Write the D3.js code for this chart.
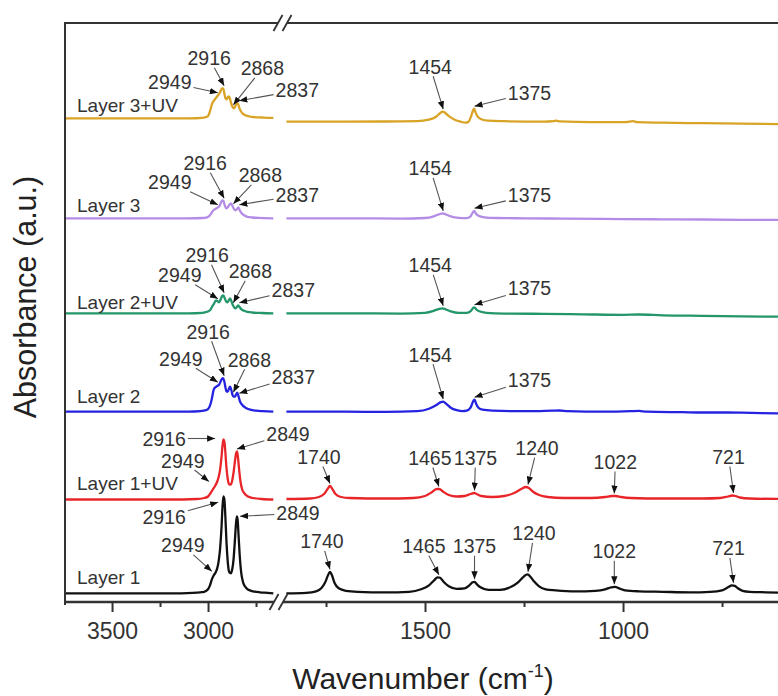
<!DOCTYPE html>
<html><head><meta charset="utf-8">
<script src="https://cdn.jsdelivr.net/npm/d3@7"></script>
<style>
body{margin:0;background:#fff}
svg{display:block}
text{font-family:"Liberation Sans",Arial,Helvetica,sans-serif}
</style>
</head><body>
<svg id="chart" width="778" height="696"></svg>
<script>
// ---------------- DATA ----------------
const seriesNames  = ["Layer 1", "Layer 1+UV", "Layer 2", "Layer 2+UV", "Layer 3", "Layer 3+UV"];
const seriesColors = ["#111111", "#e8262a", "#2323e0", "#23966a", "#b48ce6", "#d9a426"];
// vertical offsets (a.u.) of each spectrum, high-wavenumber / low-wavenumber segment
const baselineLeft  = [0.087, 1.025, 1.903, 2.887, 3.837, 4.837];
const baselineRight = [0.087, 1.030, 1.903, 2.887, 3.837, 4.803];

const ticksLeftMajor  = [3500, 3000];
const ticksLeftMinor  = [3250, 2750];
const ticksRightMajor = [1500, 1000];
const ticksRightMinor = [1750, 1250, 750];

// spectra: [wavenumber, absorbance above offset]
const layer1Left = [[3745,0],[3200,0],[3080,0.005],[3040,0.01],[3020,0.015],[3000,0.04],[2990,0.08],[2980,0.14],[2970,0.18],[2960,0.21],[2952,0.25],[2944,0.33],[2937,0.45],[2930,0.65],[2925,0.85],[2920,0.97],[2915,0.94],[2910,0.78],[2904,0.52],[2897,0.31],[2889,0.21],[2881,0.2],[2874,0.24],[2867,0.34],[2861,0.5],[2855,0.68],[2850,0.77],[2846,0.74],[2841,0.58],[2835,0.38],[2828,0.22],[2819,0.12],[2808,0.07],[2790,0.035],[2765,0.02],[2730,0.01],[2690,0.005],[2660,0]];
const layer1Right = [[1850,0],[1800,0.005],[1775,0.02],[1762,0.05],[1752,0.11],[1745,0.18],[1740,0.215],[1735,0.18],[1728,0.1],[1718,0.05],[1700,0.025],[1670,0.015],[1600,0.01],[1540,0.015],[1510,0.04],[1490,0.08],[1477,0.13],[1468,0.16],[1462,0.155],[1452,0.11],[1440,0.07],[1420,0.045],[1400,0.05],[1388,0.08],[1380,0.11],[1375,0.115],[1369,0.09],[1360,0.06],[1340,0.035],[1310,0.035],[1285,0.06],[1265,0.11],[1250,0.17],[1242,0.19],[1236,0.175],[1225,0.12],[1212,0.07],[1195,0.04],[1170,0.03],[1120,0.02],[1070,0.025],[1045,0.04],[1030,0.06],[1020,0.065],[1010,0.05],[995,0.03],[960,0.02],[900,0.015],[830,0.01],[780,0.015],[750,0.03],[735,0.06],[725,0.08],[718,0.075],[710,0.05],[698,0.025],[680,0.015],[640,0.01],[590,0.005]];

const layer1UVLeft = [[3745,0],[3200,0],[3060,0.005],[3020,0.015],[3000,0.03],[2988,0.06],[2975,0.1],[2962,0.14],[2952,0.18],[2944,0.23],[2937,0.3],[2930,0.42],[2925,0.53],[2920,0.6],[2915,0.58],[2910,0.48],[2904,0.32],[2897,0.2],[2889,0.15],[2881,0.15],[2874,0.19],[2867,0.27],[2860,0.38],[2854,0.46],[2849,0.48],[2844,0.42],[2838,0.3],[2831,0.18],[2822,0.1],[2810,0.06],[2792,0.03],[2765,0.015],[2720,0.005],[2660,0]];
const layer1UVRight = [[1850,0],[1790,0.005],[1768,0.02],[1755,0.05],[1746,0.1],[1740,0.13],[1734,0.1],[1726,0.05],[1712,0.02],[1690,0.01],[1600,0.005],[1530,0.01],[1500,0.03],[1482,0.07],[1470,0.1],[1464,0.1],[1455,0.075],[1440,0.04],[1420,0.025],[1400,0.03],[1385,0.05],[1376,0.06],[1370,0.05],[1358,0.03],[1330,0.02],[1300,0.03],[1275,0.06],[1257,0.1],[1245,0.12],[1238,0.11],[1228,0.075],[1212,0.04],[1190,0.02],[1150,0.01],[1080,0.01],[1045,0.02],[1028,0.03],[1018,0.03],[1005,0.02],[980,0.01],[900,0.005],[800,0.005],[755,0.01],[735,0.025],[724,0.035],[716,0.03],[705,0.015],[680,0.005],[590,0]];

const layer2Left = [[3745,0],[3100,0],[3040,0.005],[3010,0.015],[2995,0.04],[2985,0.09],[2978,0.15],[2972,0.21],[2965,0.24],[2957,0.25],[2950,0.26],[2942,0.27],[2935,0.3],[2927,0.33],[2922,0.335],[2916,0.31],[2910,0.25],[2903,0.2],[2897,0.2],[2891,0.23],[2885,0.25],[2879,0.22],[2873,0.17],[2867,0.15],[2861,0.15],[2854,0.17],[2848,0.19],[2842,0.16],[2835,0.11],[2827,0.08],[2816,0.055],[2800,0.035],[2780,0.02],[2750,0.01],[2712,0.005],[2660,0]];
const layer2Right = [[1850,0],[1700,0],[1600,-0.002],[1520,0.005],[1490,0.03],[1470,0.07],[1460,0.095],[1454,0.1],[1447,0.08],[1435,0.04],[1420,0.015],[1405,0.005],[1395,0.01],[1385,0.04],[1379,0.1],[1375,0.12],[1371,0.08],[1365,0.04],[1355,0.02],[1330,0.01],[1280,0.005],[1240,0.005],[1180,0.01],[1160,0.012],[1140,0.005],[1050,0],[980,0.005],[960,0.008],[940,0],[850,-0.005],[800,-0.008],[740,-0.008],[700,-0.01],[650,-0.015],[590,-0.017]];

const layer2UVLeft = [[3745,0],[3100,0],[3030,0.005],[3005,0.015],[2990,0.03],[2978,0.07],[2968,0.1],[2958,0.13],[2950,0.12],[2942,0.11],[2934,0.14],[2926,0.175],[2920,0.18],[2914,0.155],[2906,0.12],[2899,0.11],[2892,0.13],[2885,0.15],[2878,0.12],[2870,0.08],[2862,0.055],[2856,0.05],[2849,0.065],[2842,0.08],[2835,0.06],[2826,0.04],[2812,0.025],[2795,0.015],[2770,0.008],[2720,0.003],[2660,0]];
const layer2UVRight = [[1850,0],[1700,0],[1560,-0.003],[1500,0.005],[1478,0.025],[1464,0.045],[1456,0.05],[1448,0.04],[1435,0.02],[1415,0.005],[1395,0.005],[1384,0.025],[1378,0.055],[1375,0.06],[1371,0.04],[1363,0.02],[1345,0.005],[1300,-0.003],[1200,-0.005],[1100,-0.01],[1000,-0.015],[960,-0.012],[900,-0.02],[800,-0.025],[700,-0.03],[590,-0.035]];

const layer3Left = [[3745,0],[3100,0],[3030,0.003],[3005,0.01],[2990,0.03],[2980,0.06],[2972,0.08],[2964,0.09],[2956,0.1],[2948,0.11],[2940,0.125],[2932,0.16],[2926,0.18],[2920,0.175],[2913,0.13],[2905,0.1],[2897,0.11],[2889,0.135],[2880,0.15],[2872,0.12],[2864,0.09],[2857,0.08],[2850,0.09],[2842,0.11],[2835,0.08],[2825,0.05],[2812,0.03],[2795,0.015],[2770,0.008],[2740,0.005],[2660,0]];
const layer3Right = [[1850,0],[1700,0],[1560,-0.003],[1500,0.003],[1478,0.02],[1465,0.04],[1456,0.05],[1448,0.04],[1435,0.02],[1415,0.005],[1395,0.002],[1385,0.02],[1379,0.06],[1376,0.075],[1372,0.05],[1365,0.025],[1350,0.01],[1320,0.003],[1250,0],[1150,-0.003],[1000,-0.008],[900,-0.01],[800,-0.012],[700,-0.015],[590,-0.017]];

const layer3UVLeft = [[3745,0],[3100,0],[3030,0.005],[3005,0.015],[2995,0.04],[2987,0.09],[2980,0.14],[2972,0.17],[2964,0.19],[2956,0.21],[2948,0.23],[2940,0.25],[2933,0.28],[2927,0.3],[2921,0.3],[2915,0.25],[2909,0.2],[2903,0.19],[2897,0.21],[2891,0.22],[2885,0.19],[2878,0.14],[2871,0.11],[2865,0.1],[2858,0.12],[2851,0.15],[2845,0.15],[2838,0.11],[2829,0.07],[2818,0.045],[2805,0.03],[2785,0.018],[2760,0.012],[2720,0.008],[2680,0.005],[2660,0.005]];
const layer3UVRight = [[1850,0],[1700,0],[1600,0.002],[1520,0.005],[1490,0.02],[1472,0.05],[1462,0.085],[1455,0.1],[1448,0.085],[1438,0.05],[1425,0.02],[1410,0],[1398,-0.01],[1390,0],[1384,0.05],[1379,0.11],[1376,0.13],[1373,0.1],[1367,0.05],[1358,0.025],[1340,0.01],[1300,0.005],[1200,0],[1175,0.005],[1168,0.01],[1160,0.003],[1080,-0.005],[1000,-0.005],[990,-0.003],[975,0.005],[965,-0.005],[900,-0.01],[800,-0.015],[700,-0.02],[590,-0.025]];

const spectraLeft  = [layer1Left, layer1UVLeft, layer2Left, layer2UVLeft, layer3Left, layer3UVLeft];
const spectraRight = [layer1Right, layer1UVRight, layer2Right, layer2UVRight, layer3Right, layer3UVRight];

// peak labels per spectrum
const peakLabels = [
  [2949, 2916, 2849, 1740, 1465, 1375, 1240, 1022, 721],
  [2949, 2916, 2849, 1740, 1465, 1375, 1240, 1022, 721],
  [2949, 2916, 2868, 2837, 1454, 1375],
  [2949, 2916, 2868, 2837, 1454, 1375],
  [2949, 2916, 2868, 2837, 1454, 1375],
  [2949, 2916, 2868, 2837, 1454, 1375]
];

// ---------------- LAYOUT ----------------
// label layout: [text dx, text dy from offset line, (arrow tip dx, tip dy)]
const labelLayout = [
  [[-35,-48,-6,-22],[-60,-76,-6,-91],[61,-80,3,-77],[-8,-52],[-15,-47],[0,-47],[6,-60],[0,-42],[-5,-45]],
  [[-35,-39,-9,-18],[-60,-61,-9,-61],[51,-66],[-11,-42],[-9,-41],[1,-41],[9,-51],[1,-37],[-5,-42]],
  [[-37,-53],[-16,-80],[16,-52],[54,-35],[-13,-57],[55,-32]],
  [[-38,-38],[-17,-58],[17,-42],[54,-23],[-13,-48],[55,-25]],
  [[-48,-36],[-19,-55],[27,-43],[58,-23],[-13,-50],[55,-23]],
  [[-48,-36],[-15,-60],[29,-50],[58,-28],[-13,-55],[55,-29]]
];
const layerLabelDy = [-16, -16, -15, -11, -13, -13];

const svg = d3.select("#chart");
const plotTop = 23, plotBottom = 602, plotLeft = 65;
const xL = d3.scaleLinear().domain([3745, 2660]).range([65, 273.3]);
const xR = d3.scaleLinear().domain([1850, 590]).range([286.4, 785.4]);
const y  = d3.scaleLinear().domain([0, 5.79]).range([plotBottom, plotTop]);

const ink = "#333";
const annFont = 19.5;

// arrow marker
svg.append("defs").append("marker")
  .attr("id", "arr").attr("viewBox", "0 0 10 8").attr("refX", 10).attr("refY", 4)
  .attr("markerWidth", 8).attr("markerHeight", 6.4).attr("markerUnits", "userSpaceOnUse")
  .attr("orient", "auto")
  .append("path").attr("d", "M0,0 L10,4 L0,8 Z").attr("fill", "#111");

// spectra
const lineL = d3.line().x(d => xL(d[0])).y(d => y(d[1])).curve(d3.curveMonotoneX);
const lineR = d3.line().x(d => xR(d[0])).y(d => y(d[1])).curve(d3.curveMonotoneX);
const gSpec = svg.append("g");
seriesNames.forEach((name, i) => {
  const l = spectraLeft[i].map(d => [d[0], baselineLeft[i] + d[1]]);
  const r = spectraRight[i].map(d => [d[0], baselineRight[i] + d[1]]);
  gSpec.append("path").attr("d", lineL(l)).attr("fill", "none")
    .attr("stroke", seriesColors[i]).attr("stroke-width", 2.3).attr("stroke-linejoin", "round");
  gSpec.append("path").attr("d", lineR(r)).attr("fill", "none")
    .attr("stroke", seriesColors[i]).attr("stroke-width", 2.3).attr("stroke-linejoin", "round");
  svg.append("text").attr("x", 77).attr("y", y(baselineLeft[i]) + layerLabelDy[i])
    .attr("dominant-baseline", "central").attr("font-size", 19).attr("fill", ink).text(name);
});

// frame (top & left) and axis line
const gFrame = svg.append("g").attr("stroke", "#333").attr("fill", "none");
gFrame.append("path").attr("d", `M${plotLeft},${plotTop}H800`).attr("stroke-width", 2);
gFrame.append("path").attr("d", `M${plotLeft},${plotTop - 1}V${plotBottom + 3}`).attr("stroke-width", 2);
gFrame.append("path").attr("d", `M${plotLeft},${plotBottom}H800`).attr("stroke-width", 2.4);

// axes
function addAxis(scale, major, minor) {
  const gMaj = svg.append("g").attr("transform", `translate(0,${plotBottom})`)
    .call(d3.axisBottom(scale).tickValues(major).tickSize(10).tickPadding(11).tickSizeOuter(0).tickFormat(d3.format("d")));
  const gMin = svg.append("g").attr("transform", `translate(0,${plotBottom})`)
    .call(d3.axisBottom(scale).tickValues(minor).tickSize(5).tickSizeOuter(0).tickFormat(""));
  [gMaj, gMin].forEach(g => {
    g.select(".domain").remove();
    g.selectAll(".tick line").attr("stroke", "#333").attr("stroke-width", 2);
    g.selectAll(".tick text").attr("font-size", 23).attr("fill", ink)
      .attr("font-family", "'Liberation Sans',Arial,Helvetica,sans-serif");
  });
}
addAxis(xL, ticksLeftMajor, ticksLeftMinor);
addAxis(xR, ticksRightMajor, ticksRightMinor);

// axis breaks
function breakMark(c1, c2, yy) {
  const h = 8, w = 4.5;
  svg.append("path")
    .attr("d", `M${c1 - w},${yy + h}L${c1 + w},${yy - h}L${c2 + w},${yy - h}L${c2 - w},${yy + h}Z`)
    .attr("fill", "#fff").attr("stroke", "none");
  [c1, c2].forEach(c => svg.append("path")
    .attr("d", `M${c - w},${yy + h}L${c + w},${yy - h}`)
    .attr("stroke", "#333").attr("stroke-width", 1.8).attr("fill", "none"));
}
breakMark(278, 287, plotTop);
breakMark(274, 283, plotBottom);

// peak annotations
const gAnn = svg.append("g");
seriesNames.forEach((name, i) => {
  peakLabels[i].forEach((wn, k) => {
    const left = wn > 2000;
    const xs = left ? xL : xR;
    const pts = left ? spectraLeft[i] : spectraRight[i];
    const base = left ? baselineLeft[i] : baselineRight[i];
    const yb = y(base);
    const lay = labelLayout[i][k];
    let tx, ty;
    if (lay.length > 2) { tx = xs(wn) + lay[2]; ty = yb + lay[3]; }
    else {
      const near = pts.filter(p => Math.abs(p[0] - wn) <= 8);
      const m = d3.max(near, p => p[1]);
      tx = xs(wn); ty = y(base + m) - 2.5;
    }
    const cx = xs(wn) + lay[0], cy = yb + lay[1];
    const t = gAnn.append("text").attr("x", cx).attr("y", cy)
      .attr("text-anchor", "middle").attr("dominant-baseline", "central")
      .attr("font-size", annFont).attr("fill", ink).text(wn);
    const hw = t.node().getComputedTextLength() / 2 + 2, hh = annFont * 0.36 + 2.5;
    const dx = tx - cx, dy = ty - cy;
    const s = Math.min(Math.abs(dx) > 0 ? hw / Math.abs(dx) : Infinity, Math.abs(dy) > 0 ? hh / Math.abs(dy) : Infinity);
    gAnn.append("line").attr("x1", cx + dx * s).attr("y1", cy + dy * s).attr("x2", tx).attr("y2", ty)
      .attr("stroke", "#555").attr("stroke-width", 1.1).attr("marker-end", "url(#arr)");
  });
});

// titles
svg.append("text").attr("transform", "translate(25,297) rotate(-90)")
  .attr("text-anchor", "middle").attr("dominant-baseline", "central")
  .attr("font-size", 30.5).attr("fill", "#222").text("Absorbance (a.u.)");
const xt = svg.append("text").attr("x", 423).attr("y", 689).attr("text-anchor", "middle")
  .attr("font-size", 30).attr("fill", "#222");
xt.append("tspan").text("Wavenumber (cm");
xt.append("tspan").attr("dy", -12).attr("font-size", 18).text("-1");
xt.append("tspan").attr("dy", 12).text(")");
</script>
</body></html>
